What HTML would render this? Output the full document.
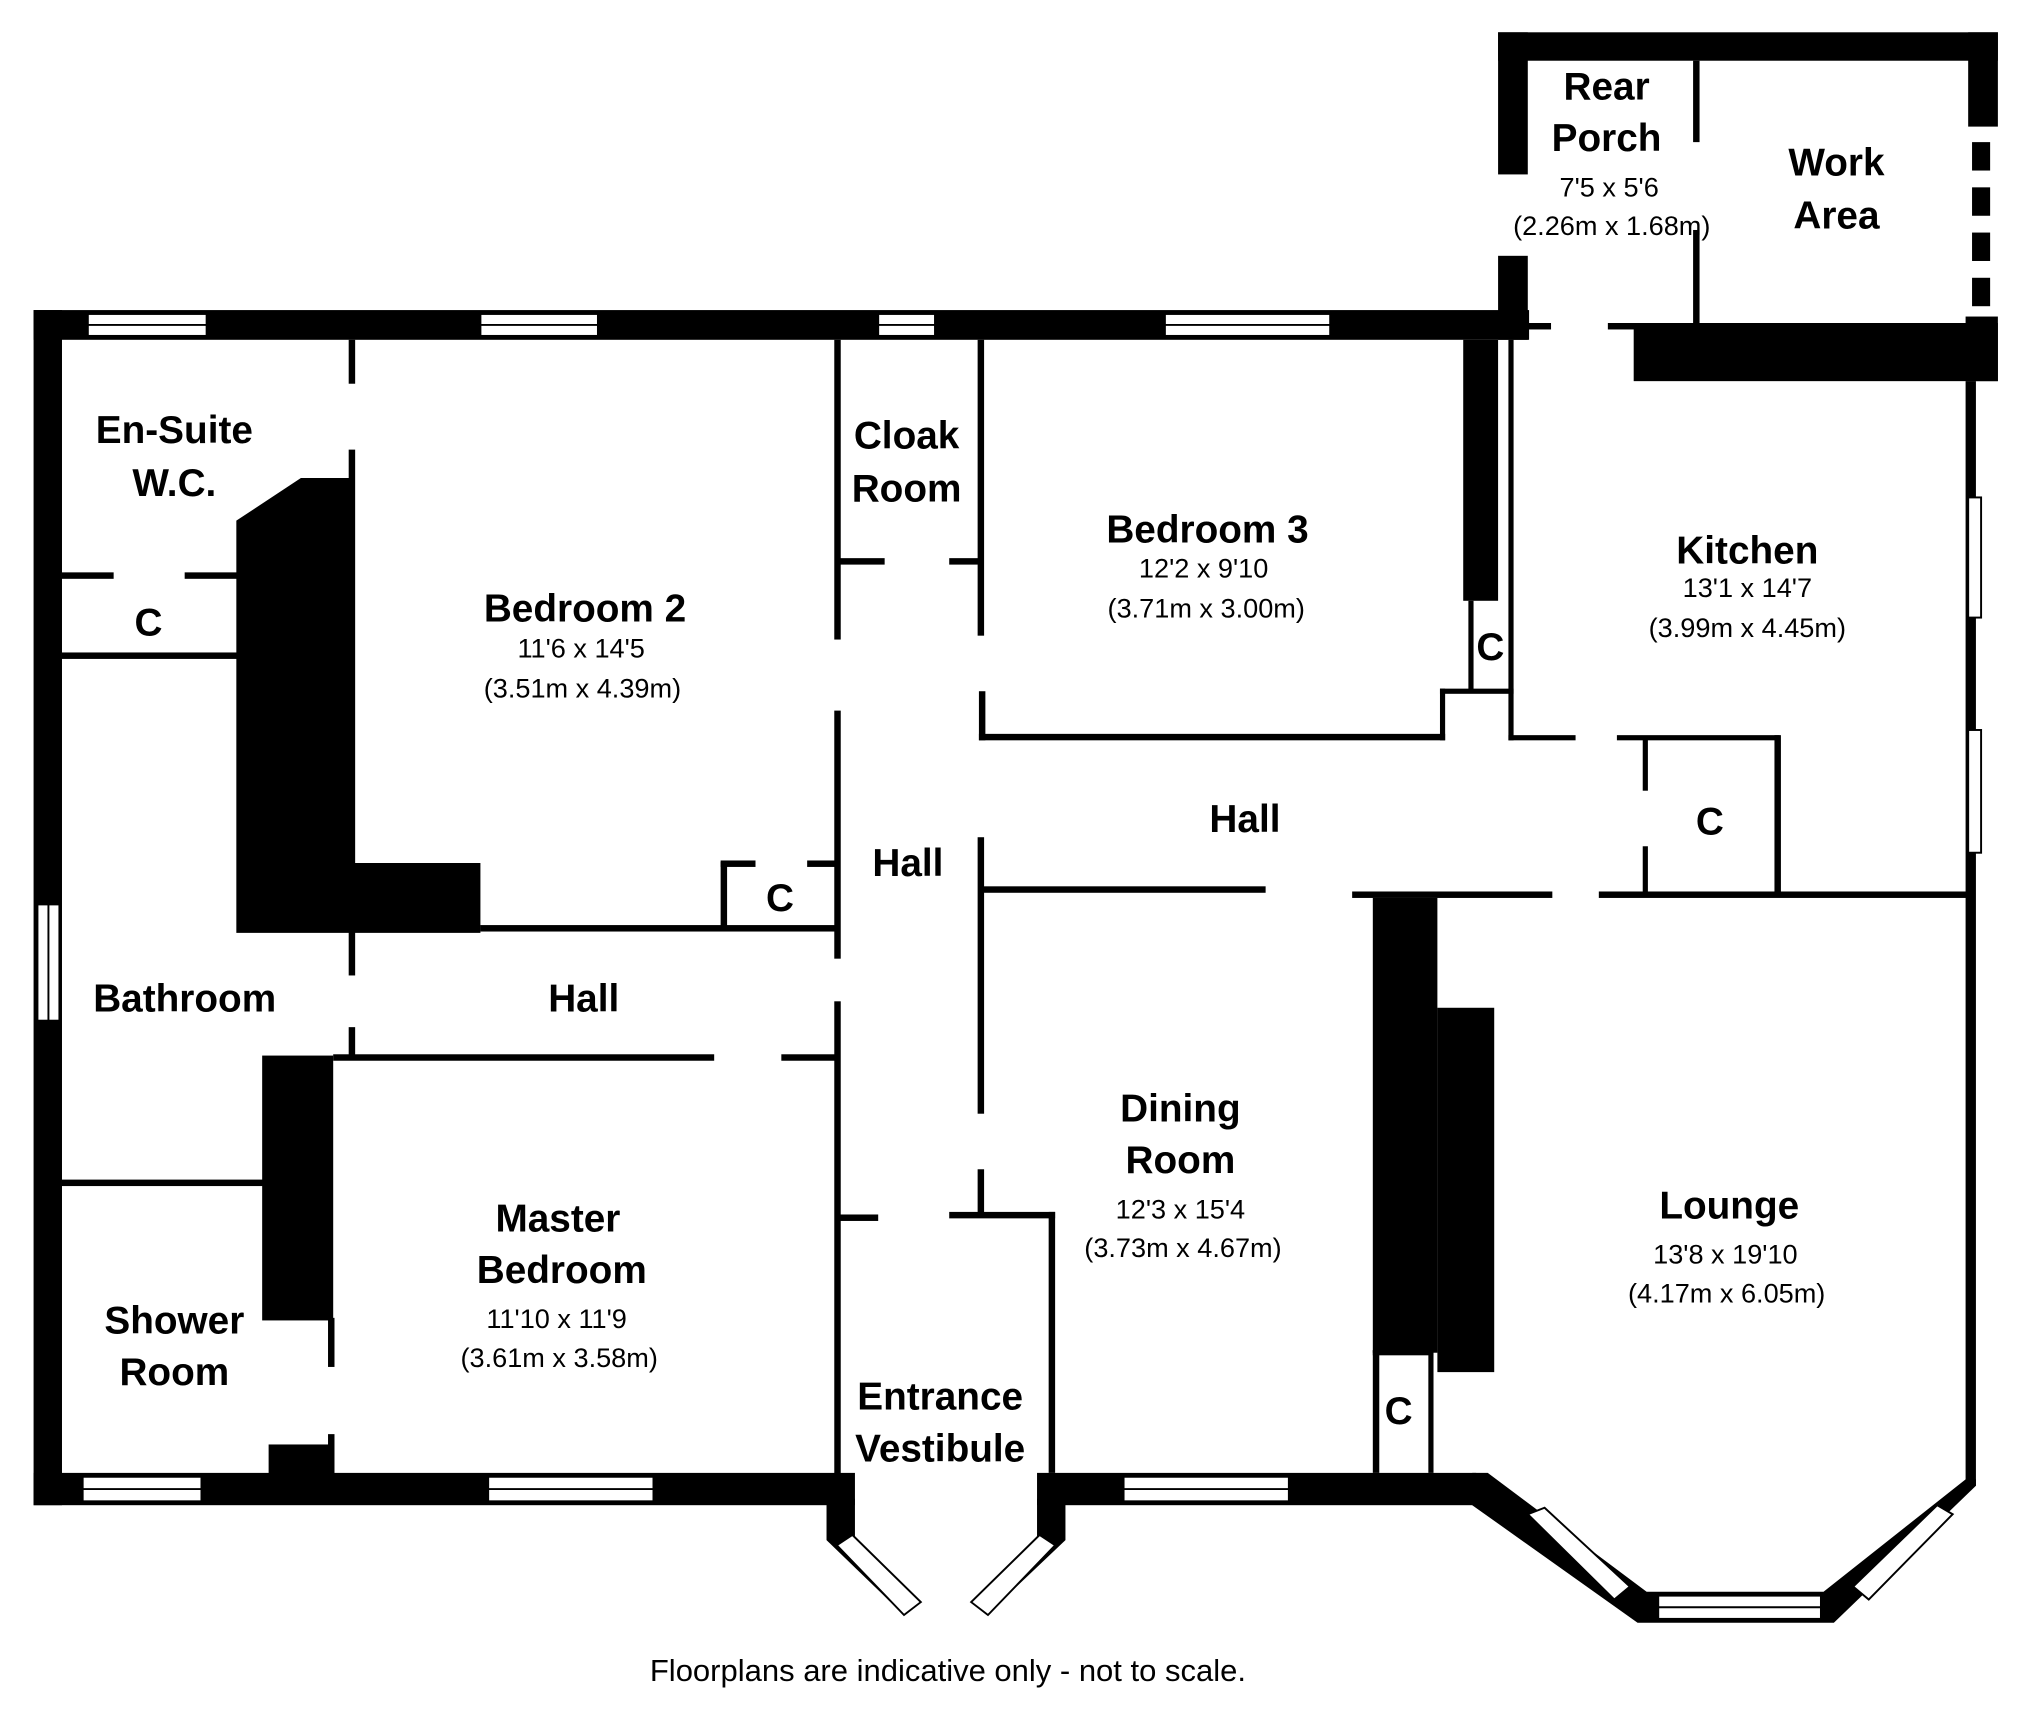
<!DOCTYPE html>
<html><head><meta charset="utf-8"><style>
html,body{margin:0;padding:0;background:#fff}
svg{display:block}
.n{font-family:"Liberation Sans",sans-serif;font-weight:bold;font-size:30px;text-anchor:middle}
.d{font-family:"Liberation Sans",sans-serif;font-size:21px;text-anchor:middle}
</style></head><body>
<svg width="2025" height="1730" viewBox="0 0 1568 1339" preserveAspectRatio="none" xmlns="http://www.w3.org/2000/svg">
<g fill="#000">
<rect x="26" y="240" width="1158" height="23"/>
<rect x="26" y="240" width="22" height="925"/>
<rect x="26" y="1140" width="636" height="25"/>
<rect x="803" y="1140" width="340" height="25"/>
<rect x="1160" y="25" width="23" height="110"/>
<rect x="1160" y="198" width="23" height="65"/>
<rect x="1160" y="25" width="387" height="22"/>
<rect x="1524" y="25" width="23" height="73"/>
<rect x="1527" y="110" width="14" height="22"/><rect x="1527" y="145" width="14" height="22"/><rect x="1527" y="180" width="14" height="22"/><rect x="1527" y="215" width="14" height="22"/>
<rect x="1311" y="47" width="5" height="63"/>
<rect x="1311" y="178" width="5" height="72"/>
<rect x="1183" y="250" width="18" height="5"/>
<rect x="1245" y="250" width="22" height="5"/>
<rect x="1265" y="250" width="282" height="45"/>
<rect x="1522" y="245" width="25" height="50"/>
<rect x="1522" y="295" width="8" height="855"/>
<rect x="1133" y="263" width="27" height="202"/>
<rect x="1137" y="465" width="4" height="70"/>
<rect x="1168" y="263" width="4" height="310"/>
<rect x="1115" y="533" width="57" height="4"/>
<rect x="1115" y="533" width="4" height="40"/>
<rect x="758" y="568" width="361" height="5"/>
<rect x="758" y="535" width="5" height="38"/>
<rect x="1168" y="569" width="52" height="4"/>
<rect x="1252" y="569" width="126" height="4"/>
<rect x="1374" y="569" width="5" height="125"/>
<rect x="1272" y="572" width="4" height="40"/>
<rect x="1272" y="655" width="4" height="38"/>
<rect x="1047" y="690" width="155" height="5"/>
<rect x="1238" y="690" width="287" height="5"/>
<rect x="1063" y="695" width="50" height="352"/>
<rect x="1113" y="780" width="44" height="282"/>
<rect x="1063" y="1045" width="5" height="95"/>
<rect x="1106" y="1045" width="4" height="95"/>
<rect x="1063" y="1045" width="47" height="4"/>
<polygon points="1140,1140 1152,1140 1275,1232 1412,1232 1522,1145 1530,1145 1530,1150 1420,1256 1268,1256 1140,1165"/>
<rect x="757" y="648" width="5" height="214"/>
<rect x="757" y="905" width="5" height="37"/>
<rect x="760" y="686" width="220" height="5"/>
<rect x="735" y="938" width="82" height="5"/>
<rect x="812" y="938" width="5" height="202"/>
<rect x="650" y="940" width="30" height="5"/>
<rect x="646" y="263" width="5" height="232"/>
<rect x="646" y="550" width="5" height="192"/>
<rect x="646" y="775" width="5" height="367"/>
<rect x="757" y="263" width="5" height="229"/>
<rect x="650" y="432" width="35" height="5"/>
<rect x="735" y="432" width="25" height="5"/>
<rect x="270" y="263" width="5" height="34"/>
<rect x="270" y="348" width="5" height="320"/>
<polygon points="183,403 233,370 272,370 272,668 372,668 372,722 183,722"/>
<rect x="372" y="716" width="278" height="5"/>
<rect x="558" y="667" width="5" height="52"/>
<rect x="558" y="666" width="27" height="5"/>
<rect x="625" y="666" width="25" height="5"/>
<rect x="270" y="720" width="5" height="35"/>
<rect x="270" y="795" width="5" height="25"/>
<rect x="258" y="816" width="295" height="5"/>
<rect x="605" y="816" width="45" height="5"/>
<rect x="203" y="817" width="55" height="205"/>
<rect x="254" y="1020" width="5" height="38"/>
<rect x="254" y="1110" width="5" height="32"/>
<rect x="208" y="1118" width="48" height="24"/>
<rect x="48" y="443" width="40" height="5"/>
<rect x="143" y="443" width="42" height="5"/>
<rect x="48" y="505" width="137" height="5"/>
<rect x="48" y="913" width="157" height="5"/>
<polygon points="640,1160 662,1160 662,1190 712,1240 700,1250 640,1192"/>
<polygon points="803,1160 825,1160 825,1192 764,1250 752,1240 803,1190"/>
</g>
<g fill="#fff" stroke="#000" stroke-width="1.5">
<rect x="68" y="243" width="92" height="17"/><line x1="68" y1="251.5" x2="160" y2="251.5"/>
<rect x="372" y="243" width="91" height="17"/><line x1="372" y1="251.5" x2="463" y2="251.5"/>
<rect x="680" y="243" width="44" height="17"/><line x1="680" y1="251.5" x2="724" y2="251.5"/>
<rect x="902" y="243" width="128" height="17"/><line x1="902" y1="251.5" x2="1030" y2="251.5"/>
<rect x="29" y="700" width="17" height="90"/><line x1="37.5" y1="700" x2="37.5" y2="790"/>
<rect x="64" y="1143" width="92" height="19"/><line x1="64" y1="1152.5" x2="156" y2="1152.5"/>
<rect x="378" y="1143" width="128" height="19"/><line x1="378" y1="1152.5" x2="506" y2="1152.5"/>
<rect x="870" y="1143" width="128" height="19"/><line x1="870" y1="1152.5" x2="998" y2="1152.5"/>
<rect x="1524" y="385" width="10" height="93"/>
<rect x="1524" y="565" width="10" height="95"/>
<rect x="1284" y="1235" width="126" height="18"/><line x1="1284" y1="1244" x2="1410" y2="1244"/>
<polygon points="1183,1172 1196,1167 1262,1228 1250,1238"/>
<polygon points="1435,1228 1500,1165 1512,1172 1447,1238"/>
<polygon points="648,1196 660,1188 713,1240 700,1250"/>
<polygon points="752,1240 805,1188 817,1196 765,1250"/>
</g>
<text class="n" x="1244" y="77">Rear</text>
<text class="n" x="1244" y="117">Porch</text>
<text class="d" x="1246" y="152">7'5 x 5'6</text>
<text class="d" x="1248" y="182">(2.26m x 1.68m)</text>
<text class="n" x="1422" y="136">Work</text>
<text class="n" x="1422" y="177">Area</text>
<text class="n" x="135" y="343">En-Suite</text>
<text class="n" x="135" y="384">W.C.</text>
<text class="n" x="115" y="492">C</text>
<text class="n" x="702" y="347">Cloak</text>
<text class="n" x="702" y="388">Room</text>
<text class="n" x="935" y="420">Bedroom 3</text>
<text class="d" x="932" y="447">12'2 x 9'10</text>
<text class="d" x="934" y="478">(3.71m x 3.00m)</text>
<text class="n" x="1353" y="436">Kitchen</text>
<text class="d" x="1353" y="462">13'1 x 14'7</text>
<text class="d" x="1353" y="493">(3.99m x 4.45m)</text>
<text class="n" x="1154" y="511">C</text>
<text class="n" x="453" y="481">Bedroom 2</text>
<text class="d" x="450" y="509">11'6 x 14'5</text>
<text class="d" x="451" y="540">(3.51m x 4.39m)</text>
<text class="n" x="964" y="644">Hall</text>
<text class="n" x="1324" y="646">C</text>
<text class="n" x="703" y="678">Hall</text>
<text class="n" x="604" y="705">C</text>
<text class="n" x="143" y="783">Bathroom</text>
<text class="n" x="452" y="783">Hall</text>
<text class="n" x="914" y="868">Dining</text>
<text class="n" x="914" y="908">Room</text>
<text class="d" x="914" y="943">12'3 x 15'4</text>
<text class="d" x="916" y="973">(3.73m x 4.67m)</text>
<text class="n" x="1339" y="943">Lounge</text>
<text class="d" x="1336" y="978">13'8 x 19'10</text>
<text class="d" x="1337" y="1008">(4.17m x 6.05m)</text>
<text class="n" x="432" y="953">Master</text>
<text class="n" x="435" y="993">Bedroom</text>
<text class="d" x="431" y="1028">11'10 x 11'9</text>
<text class="d" x="433" y="1058">(3.61m x 3.58m)</text>
<text class="n" x="135" y="1032">Shower</text>
<text class="n" x="135" y="1072">Room</text>
<text class="n" x="728" y="1091">Entrance</text>
<text class="n" x="728" y="1131">Vestibule</text>
<text class="n" x="1083" y="1102">C</text>
<text class="d" x="734" y="1301" style="font-size:24px">Floorplans are indicative only - not to scale.</text>
</svg>
</body></html>
